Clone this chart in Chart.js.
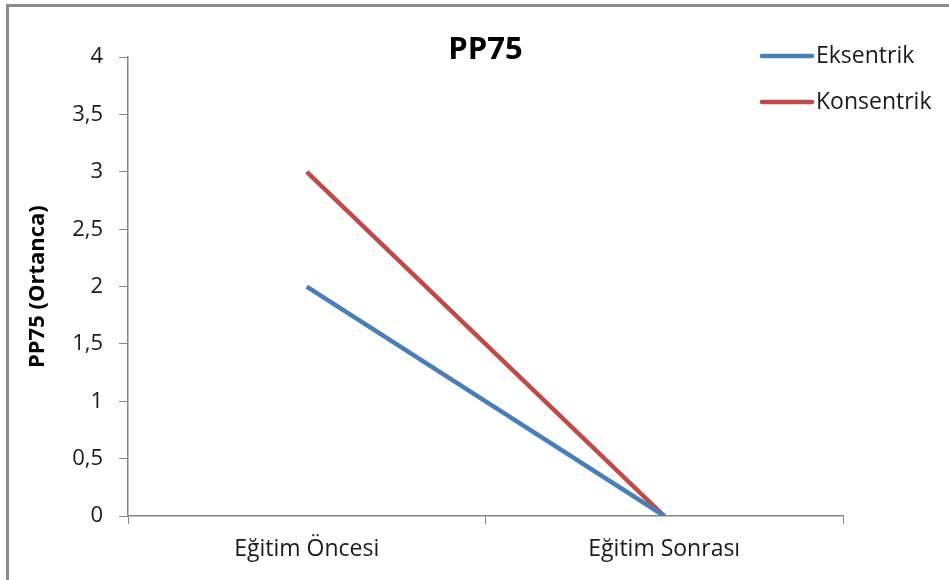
<!DOCTYPE html>
<html>
<head>
<meta charset="utf-8">
<script src="https://cdn.jsdelivr.net/npm/chart.js@4"></script>
<style>
    body { margin: 0; background: #fff; }
    #wrap { position: relative; width: 949px; height: 580px; overflow: hidden; }
    #frame {
        position: absolute; left: 6px; top: 4px; width: 1000px; height: 700px;
        border-left: 3px solid #8c8c8c; border-top: 3px solid #8c8c8c;
    }
    #c { position: absolute; left: 0; top: 0; }
</style>
</head>
<body>
<div id="wrap">
    <div id="frame"></div>
    <canvas id="c" width="949" height="580"></canvas>
</div>
<script>
// chart values
var categories = ["Eğitim Öncesi", "Eğitim Sonrası"];
var eksentrik = [2, 0];
var konsentrik = [3, 0];
var seriesNames = ["Eksentrik", "Konsentrik"];
var seriesColors = ["#4a7ebb", "#be4b48"];

var fontFamily = "'Open Sans', sans-serif";

// legend drawn at the upper right, overlapping the plot like the original
var sideLegend = {
    id: "sideLegend",
    afterDraw: function(chart) {
        var ctx = chart.ctx;
        ctx.save();
        chart.data.datasets.forEach(function(ds, i) {
            var y = 56 + i * 46;
            ctx.strokeStyle = ds.borderColor;
            ctx.lineWidth = 4.5;
            ctx.lineCap = "round";
            ctx.beginPath();
            ctx.moveTo(762, y);
            ctx.lineTo(812, y);
            ctx.stroke();
            ctx.fillStyle = "#1a1a1a";
            ctx.font = "23px " + fontFamily;
            ctx.textBaseline = "middle";
            ctx.fillText(ds.label, 816, y);
        });
        ctx.restore();
    }
};

var ctx = document.getElementById("c");
var chart = new Chart(ctx, {
    type: "line",
    data: {
        labels: categories,
        datasets: [
            {
                label: seriesNames[0],
                data: eksentrik,
                borderColor: seriesColors[0],
                backgroundColor: seriesColors[0],
                borderWidth: 4.5,
                pointRadius: 0,
                tension: 0
            },
            {
                label: seriesNames[1],
                data: konsentrik,
                borderColor: seriesColors[1],
                backgroundColor: seriesColors[1],
                borderWidth: 4.5,
                pointRadius: 0,
                tension: 0
            }
        ]
    },
    options: {
        responsive: false,
        animation: false,
        devicePixelRatio: 1,
        layout: { padding: { left: 10, right: 106, top: 0, bottom: 0 } },
        plugins: {
            legend: { display: false },
            tooltip: { enabled: false },
            title: {
                display: true,
                text: "PP75",
                fullSize: false,
                color: "#000",
                font: { family: fontFamily, size: 31, weight: "bold" },
                padding: { top: 32, bottom: -12 }
            }
        },
        scales: {
            x: {
                offset: true,
                grid: { drawOnChartArea: false, drawTicks: true, tickLength: 8, color: "#868686", offset: true },
                border: { display: true, color: "#868686", width: 1.5 },
                ticks: { color: "#1a1a1a", padding: 12, font: { family: fontFamily, size: 23 } },
                afterFit: function(scale) { scale.height = 64; }
            },
            y: {
                min: 0,
                max: 4,
                grid: { drawOnChartArea: false, drawTicks: true, tickLength: 9, color: "#868686" },
                border: { display: true, color: "#868686", width: 1.5 },
                ticks: {
                    stepSize: 0.5,
                    color: "#1a1a1a",
                    padding: 16,
                    font: { family: fontFamily, size: 22 },
                    callback: function(v) { return String(v).replace(".", ","); }
                },
                title: {
                    display: true,
                    text: "PP75 (Ortanca)",
                    color: "#000",
                    font: { family: fontFamily, size: 22, weight: "bold" },
                    padding: { top: 15, bottom: 0 }
                },
                afterFit: function(scale) { scale.width = 118; }
            }
        }
    },
    plugins: [sideLegend]
});
</script>
</body>
</html>
